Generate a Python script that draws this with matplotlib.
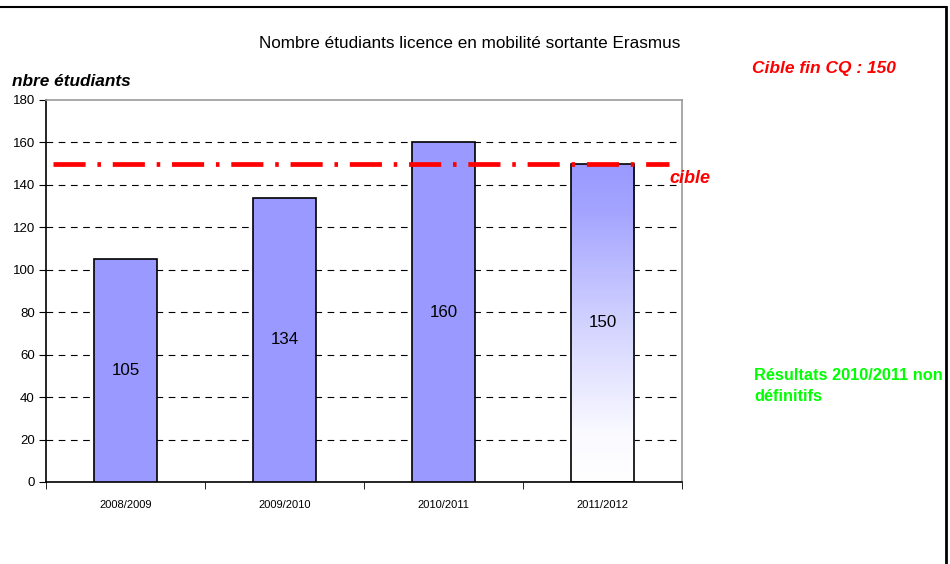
import matplotlib
matplotlib.use("Agg")
import matplotlib.pyplot as plt
import numpy as np
from matplotlib.colors import LinearSegmentedColormap

plt.rcParams['font.family'] = ['Liberation Sans', 'DejaVu Sans']

categories = ["2008/2009", "2009/2010", "2010/2011", "2011/2012"]
values = [105, 134, 160, 150]
target = 150
title = "Nombre étudiants licence en mobilité sortante Erasmus"
ylabel = "nbre étudiants"
yticks = [0, 20, 40, 60, 80, 100, 120, 140, 160, 180]

fig = plt.figure(figsize=(9.5, 5.64), dpi=100)
ax = fig.add_axes([46/950, 1-482/564, 636/950, 382/564])

x = np.arange(len(categories))
bw = 0.4
bars = ax.bar(x, values, width=bw, color="#9999FF", edgecolor="black", linewidth=1.2, zorder=3)

# gradient for last bar
last = bars[-1]
last.set_facecolor("none")
cmap = LinearSegmentedColormap.from_list(
    "g", [(0.0, "#FFFFFF"), (0.15, "#FAFAFF"), (0.5, "#D2D2FF"), (0.85, "#A4A4FF"), (1.0, "#9999FF")])
grad = np.linspace(0, 1, 256).reshape(-1, 1)
im = ax.imshow(grad, extent=[x[-1]-bw/2, x[-1]+bw/2, 0, values[-1]], origin="lower",
               aspect="auto", cmap=cmap, zorder=2.5)
im.set_clip_path(last)

for xi, v in zip(x, values):
    ax.text(xi, v/2, str(v), ha="center", va="center", fontsize=12.2, zorder=4)

ax.set_xlim(-0.5, len(categories)-0.5)
ax.set_ylim(0, 180)
ax.set_yticks(yticks)
ax.set_yticklabels([str(t) for t in yticks], fontsize=9.5)
ax.set_xticks(x)
ax.set_xticklabels(categories, fontsize=8)
ax.tick_params(axis='x', length=0, pad=13)
ax.set_xticks(np.arange(-0.5, len(categories)), minor=True)
ax.tick_params(axis='x', which='minor', length=5, direction='out')
ax.tick_params(axis='y', length=5, direction='out', pad=3)

for t in yticks[1:-1]:
    ax.axhline(t, color="black", linestyle=(0, (6, 5)), linewidth=0.8, zorder=1)

for s in ["top", "right"]:
    ax.spines[s].set_color("#999999")
    ax.spines[s].set_linewidth(1.2)
ax.spines["left"].set_linewidth(1.2)
ax.spines["bottom"].set_linewidth(1.2)

ax.plot([-0.455, 3.42], [target, target], color="#FF0000", linewidth=3.4,
        linestyle=(0, (6.8, 2.5, 0.75, 2.5)), zorder=5, clip_on=False)
ax.text(3.42, target - 3, "cible", color="#FF0000", fontsize=13, fontweight="bold",
        fontstyle="italic", ha="left", va="top")

fig.text(470/950, 1-43/564, title, ha="center", va="center", fontsize=12.3)
fig.text(12/950, 1-82/564, ylabel, ha="left", va="center", fontsize=12.4,
         fontweight="bold", fontstyle="italic")
fig.text(752/950, 1-69/564, "Cible fin CQ : 150", color="#FF0000", ha="left", va="center",
         fontsize=12.5, fontweight="bold", fontstyle="italic")
fig.text(754/950, 1-368/564, "Résultats 2010/2011 non\ndéfinitifs", color="#00FF00",
         ha="left", va="top", fontsize=11.8, fontweight="bold", linespacing=1.5)

# figure border lines
fig.add_artist(plt.Line2D([0, 946/950], [1-7/564, 1-7/564], color="black", linewidth=1.5,
                          transform=fig.transFigure))
fig.add_artist(plt.Line2D([946/950, 946/950], [0, 1-7/564], color="black", linewidth=2,
                          transform=fig.transFigure, zorder=11))

fig.savefig("out.png", dpi=100)
